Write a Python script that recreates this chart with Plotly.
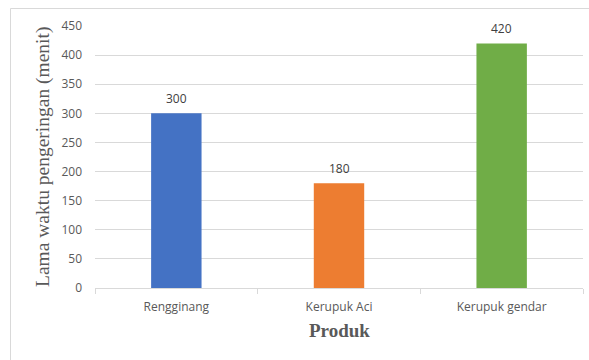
import plotly.graph_objects as go

# Drying time per product (minutes)
produk = ["Rengginang", "Kerupuk Aci", "Kerupuk gendar"]
waktu = [300, 180, 420]
warna = ["#4472C4", "#ED7D31", "#70AD47"]
y_ticks = [0, 50, 100, 150, 200, 250, 300, 350, 400, 450]

W, H = 589, 360
L, R, T, B = 95, 6, 26, 72

fig = go.Figure(
    go.Bar(
        x=produk,
        y=waktu,
        marker=dict(color=warna, line=dict(width=0)),
        hoverinfo="skip",
    )
)

# value labels above each bar
for p, v in zip(produk, waktu):
    fig.add_annotation(
        x=p, y=v, text=str(v), showarrow=False,
        yanchor="middle", yshift=15,
        font=dict(family="Open Sans", size=12, color="#404040"),
    )

pw = W - L - R
ph = H - T - B

# axis titles
fig.add_annotation(
    xref="paper", yref="paper", x=0.5, y=(0 - 42) / ph,
    text="<b>Produk</b>", showarrow=False, yanchor="middle",
    font=dict(family="Liberation Serif", size=19, color="#595959"),
)
fig.add_annotation(
    xref="paper", yref="paper", x=(43 - L) / pw, y=(0 - (157 - (H - B))) / ph,
    text="Lama waktu pengeringan (menit)", showarrow=False, textangle=-90,
    xanchor="center", yanchor="middle",
    font=dict(family="Liberation Serif", size=19.5, color="#595959"),
)

# outer chart border
fig.add_shape(
    type="rect", xref="paper", yref="paper",
    x0=(10.5 - L) / pw, x1=(W + 20 - L) / pw,
    y0=(H - B - (H + 20)) / ph, y1=(H - B - 8.5) / ph,
    line=dict(color="#D9D9D9", width=1), fillcolor="rgba(0,0,0,0)",
    layer="below",
)

fig.update_layout(
    width=W, height=H,
    margin=dict(l=L, r=R, t=T, b=B),
    paper_bgcolor="white", plot_bgcolor="white",
    bargap=0.69,
    showlegend=False,
    xaxis=dict(
        type="category",
        showgrid=False,
        showline=True, linecolor="#D9D9D9", linewidth=1,
        ticks="outside", tickson="boundaries", ticklen=5, tickcolor="#D9D9D9",
        ticklabelstandoff=8,
        tickfont=dict(family="Open Sans", size=12, color="#595959"),
        fixedrange=True,
    ),
    yaxis=dict(
        range=[0, 450],
        tickvals=y_ticks,
        showgrid=True, gridcolor="#D9D9D9", gridwidth=1,
        zeroline=False, showline=False, ticks="",
        ticklabelstandoff=12,
        tickfont=dict(family="Open Sans", size=12, color="#595959"),
        fixedrange=True,
    ),
)

fig.write_html("out.html", config={"displayModeBar": False})
